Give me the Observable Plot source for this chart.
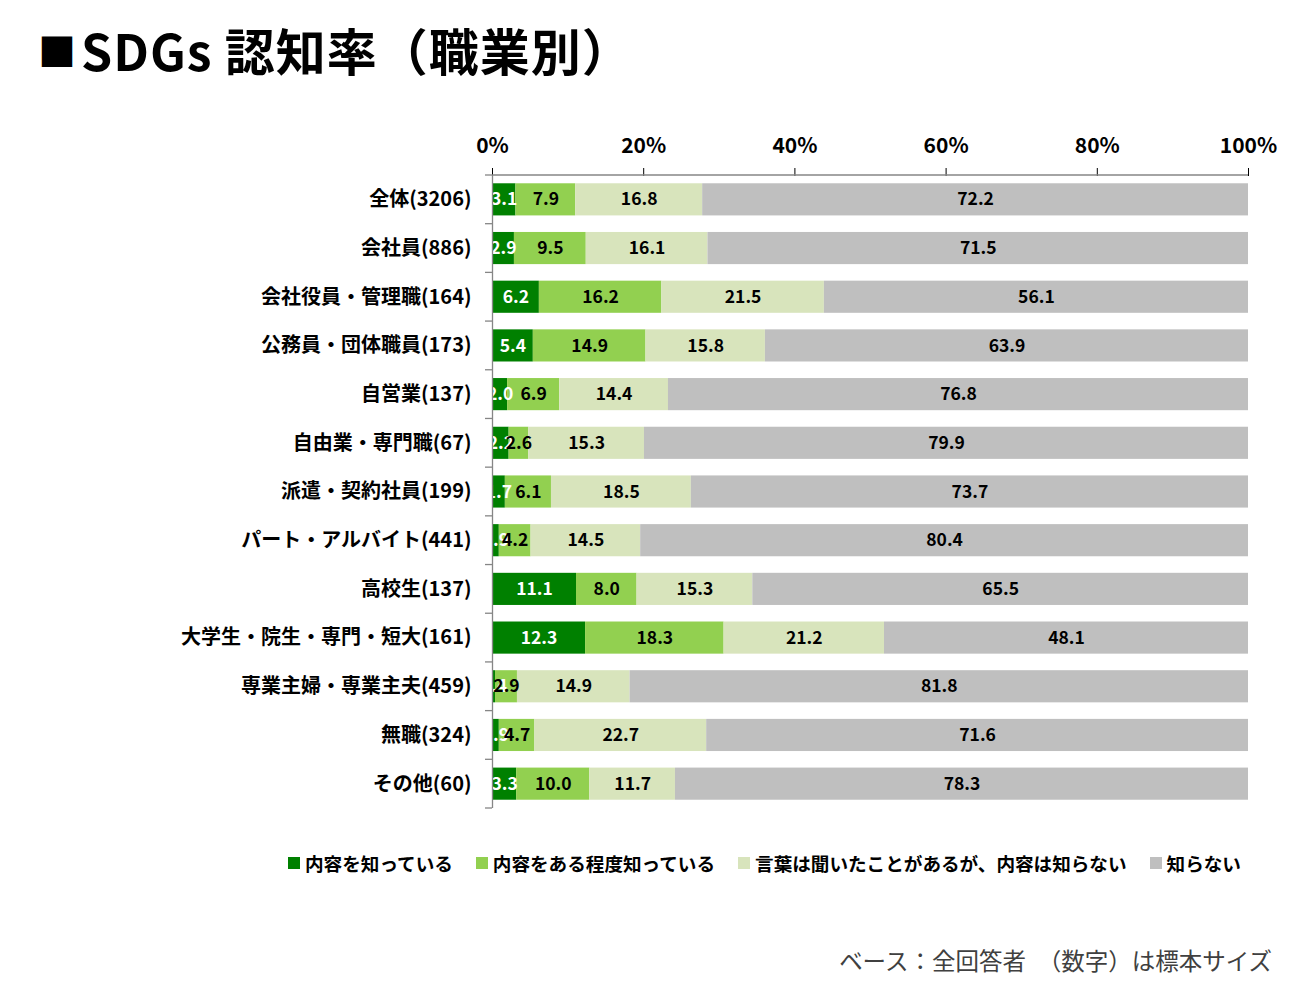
<!DOCTYPE html>
<html><head><meta charset="utf-8">
<script src="https://cdn.jsdelivr.net/npm/d3@7"></script>
<script src="https://cdn.jsdelivr.net/npm/@observablehq/plot@0.6"></script>
<style>
body{margin:0;background:#fff;font-family:'Noto Sans CJK JP','Noto Sans',sans-serif;}
#wrap{position:relative;width:1305px;height:991px;overflow:hidden;}
#title{position:absolute;left:38px;top:13px;font-size:50px;font-weight:bold;color:#000;white-space:nowrap;letter-spacing:1px;}
#title .sq{font-size:38px;vertical-align:5px;margin-right:4px;}
#chart{position:absolute;left:0;top:100px;}
#legend{position:absolute;left:288px;top:849px;display:flex;font-size:18.6px;font-weight:bold;color:#000;white-space:nowrap;}
#legend .it{display:flex;align-items:center;margin-right:23px;}
#legend .sw{width:12px;height:12px;margin-right:5px;}
#foot{position:absolute;right:33px;top:943px;font-size:23.5px;color:#404040;white-space:nowrap;}
svg [aria-label^="x-axis"] text{font-size:21px;}
</style></head>
<body><div id="wrap">
<div id="title"><span class="sq">■</span>SDGs 認知率（職業別）</div>
<div id="chart"></div>
<div id="legend"></div>
<div id="foot">ベース：全回答者　（数字）は標本サイズ</div>
</div>
<script>
const categories = ["全体(3206)","会社員(886)","会社役員・管理職(164)","公務員・団体職員(173)","自営業(137)","自由業・専門職(67)","派遣・契約社員(199)","パート・アルバイト(441)","高校生(137)","大学生・院生・専門・短大(161)","専業主婦・専業主夫(459)","無職(324)","その他(60)"];
const series = ["内容を知っている","内容をある程度知っている","言葉は聞いたことがあるが、内容は知らない","知らない"];
const colors = ["#008000","#92D050","#D8E4BC","#BFBFBF"];
const know = [3.1,2.9,6.2,5.4,2.0,2.2,1.7,0.9,11.1,12.3,0.4,0.9,3.3];
const knowSome = [7.9,9.5,16.2,14.9,6.9,2.6,6.1,4.2,8.0,18.3,2.9,4.7,10.0];
const heard = [16.8,16.1,21.5,15.8,14.4,15.3,18.5,14.5,15.3,21.2,14.9,22.7,11.7];
const dontKnow = [72.2,71.5,56.1,63.9,76.8,79.9,73.7,80.4,65.5,48.1,81.8,71.6,78.3];
const xTicks = [0,0.2,0.4,0.6,0.8,1];

const seriesValues = [know, knowSome, heard, dontKnow];
const data = [];
categories.forEach((c,i)=>{
  series.forEach((s,j)=>data.push({category:c, series:s, value:seriesValues[j][i]}));
});

const stackOpts = {x:"value", y:"category", z:"series", offset:"normalize", order:series};
const chart = Plot.plot({
  width:1305, height:720,
  marginTop:75, marginBottom:12, marginLeft:492, marginRight:57,
  style:{fontFamily:"'Noto Sans CJK JP','Noto Sans',sans-serif", fontSize:"20px", fontWeight:"bold", color:"#000", background:"transparent", overflow:"visible"},
  x:{domain:[0,1], ticks:xTicks, tickFormat:d=>Math.round(d*100)+"%", axis:"top", tickSize:8, tickPadding:15, label:null},
  y:{domain:categories, paddingInner:0.34, paddingOuter:0.17, round:false, tickSize:0, tickPadding:21, label:null},
  color:{domain:series, range:colors},
  marks:[
    Plot.barX(data, Plot.stackX({...stackOpts, fill:"series"})),
    Plot.text(data, Plot.stackX({...stackOpts, text:d=>d.series===series[0]?d.value.toFixed(1):"", fill:"white", fontSize:17.5, fontWeight:"bold", clip:true})),
    Plot.text(data, Plot.stackX({...stackOpts, text:d=>d.series!==series[0]?d.value.toFixed(1):"", fill:"black", fontSize:17.5, fontWeight:"bold", clip:true})),
    Plot.ruleX([0], {stroke:"#868686", strokeWidth:1.3})
  ]
});
document.getElementById("chart").appendChild(chart);

// axis decorations from the scales
const sx = chart.scale("x"), sy = chart.scale("y");
const svg = d3.select(chart);
const frameTop = sy.apply(categories[0]) - (sy.step - sy.bandwidth)/2;
const g = svg.append("g").attr("stroke","#868686").attr("stroke-width",1.3);
g.append("line").attr("x1",sx.apply(0)).attr("x2",sx.apply(1)).attr("y1",frameTop).attr("y2",frameTop);
for(let i=0;i<=categories.length;i++){
  const yy = frameTop + i*sy.step;
  g.append("line").attr("x1",sx.apply(0)-7).attr("x2",sx.apply(0)).attr("y1",yy).attr("y2",yy);
}

const leg = document.getElementById("legend");
series.forEach((s,i)=>{
  const it=document.createElement("div"); it.className="it";
  it.innerHTML=`<div class="sw" style="background:${colors[i]}"></div><span>${s}</span>`;
  leg.appendChild(it);
});
</script>
</body></html>
